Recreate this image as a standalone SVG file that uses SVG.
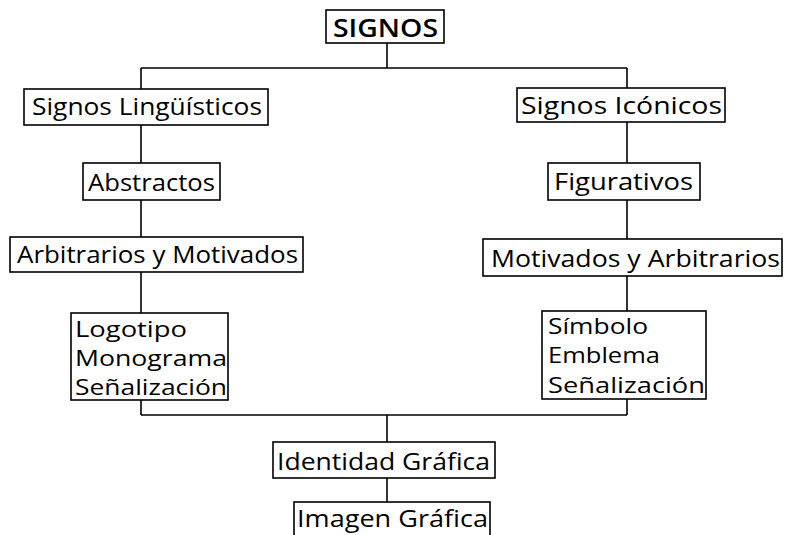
<svg xmlns="http://www.w3.org/2000/svg" width="789" height="535" viewBox="0 0 789 535">
<style>
.box{fill:#fff;stroke:#000;stroke-width:1.6}
.t{font-family:"Open Sans","Noto Sans","Liberation Sans",sans-serif;font-size:24px;fill:#000}
.m{font-size:22px}
.h{font-weight:600;font-size:26px}
#connectors line{stroke:#000;stroke-width:1.6}
</style>
<rect width="789" height="535" fill="#fff"/>
<g id="connectors">
<line x1="387" y1="43" x2="387" y2="68"/>
<line x1="141" y1="68" x2="627" y2="68"/>
<line x1="141" y1="68" x2="141" y2="89"/>
<line x1="627" y1="68" x2="627" y2="88"/>
<line x1="141" y1="125" x2="141" y2="163"/>
<line x1="627" y1="122" x2="627" y2="163"/>
<line x1="141" y1="200" x2="141" y2="237"/>
<line x1="627" y1="200" x2="627" y2="239"/>
<line x1="141" y1="272" x2="141" y2="313"/>
<line x1="627" y1="276" x2="627" y2="311"/>
<line x1="141" y1="400" x2="141" y2="415"/>
<line x1="627" y1="399" x2="627" y2="415"/>
<line x1="141" y1="415" x2="627" y2="415"/>
<line x1="387" y1="415" x2="387" y2="442"/>
<line x1="387" y1="478" x2="387" y2="502"/>
</g>
<g id="signos">
<rect class="box" x="326" y="10" width="118" height="33"/>
<text class="t h" x="333" y="37" textLength="105" lengthAdjust="spacingAndGlyphs">SIGNOS</text>
</g>
<g id="linguisticos">
<rect class="box" x="24" y="89" width="244" height="36"/>
<text class="t" x="32" y="115" textLength="230" lengthAdjust="spacingAndGlyphs">Signos Lingüísticos</text>
</g>
<g id="iconicos">
<rect class="box" x="517" y="88" width="208" height="34"/>
<text class="t" x="521" y="114" textLength="201" lengthAdjust="spacingAndGlyphs">Signos Icónicos</text>
</g>
<g id="abstractos">
<rect class="box" x="83" y="163" width="137" height="37"/>
<text class="t" x="88" y="191" textLength="127" lengthAdjust="spacingAndGlyphs">Abstractos</text>
</g>
<g id="figurativos">
<rect class="box" x="548" y="163" width="152" height="37"/>
<text class="t" x="554" y="190" textLength="139" lengthAdjust="spacingAndGlyphs">Figurativos</text>
</g>
<g id="arbitrarios-motivados">
<rect class="box" x="10" y="237" width="293" height="35"/>
<text class="t" x="17" y="263" textLength="281" lengthAdjust="spacingAndGlyphs">Arbitrarios y Motivados</text>
</g>
<g id="motivados-arbitrarios">
<rect class="box" x="483" y="239" width="299" height="37"/>
<text class="t" x="491" y="267" textLength="289" lengthAdjust="spacingAndGlyphs">Motivados y Arbitrarios</text>
</g>
<g id="logotipo">
<rect class="box" x="71" y="313" width="157" height="87"/>
<text class="t m" x="75" y="337" textLength="112" lengthAdjust="spacingAndGlyphs">Logotipo</text>
<text class="t m" x="75" y="366" textLength="152" lengthAdjust="spacingAndGlyphs">Monograma</text>
<text class="t m" x="75" y="395" textLength="152" lengthAdjust="spacingAndGlyphs">Señalización</text>
</g>
<g id="simbolo">
<rect class="box" x="542" y="311" width="164" height="88"/>
<text class="t m" x="548" y="334" textLength="100" lengthAdjust="spacingAndGlyphs">Símbolo</text>
<text class="t m" x="548" y="363" textLength="112" lengthAdjust="spacingAndGlyphs">Emblema</text>
<text class="t m" x="548" y="393" textLength="157" lengthAdjust="spacingAndGlyphs">Señalización</text>
</g>
<g id="identidad">
<rect class="box" x="273" y="442" width="222" height="36"/>
<text class="t" x="277" y="470" textLength="213" lengthAdjust="spacingAndGlyphs">Identidad Gráfica</text>
</g>
<g id="imagen">
<rect class="box" x="294" y="502" width="196" height="40"/>
<text class="t" x="297" y="527" textLength="191" lengthAdjust="spacingAndGlyphs">Imagen Gráfica</text>
</g>
</svg>
